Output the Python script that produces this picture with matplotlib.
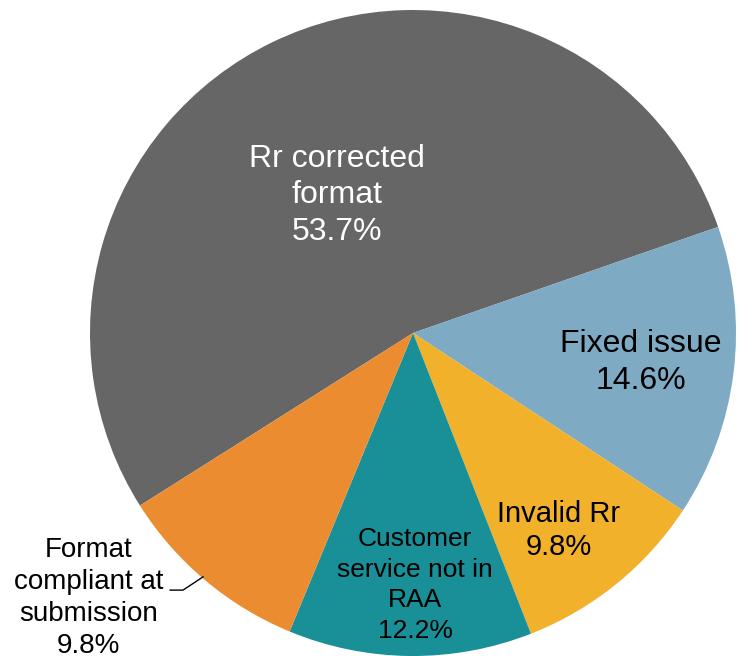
import matplotlib.pyplot as plt

plt.rcParams['font.family'] = ['Liberation Sans', 'DejaVu Sans']

labels = ['Rr corrected\nformat', 'Fixed issue', 'Invalid Rr',
          'Customer\nservice not in\nRAA', 'Format\ncompliant at\nsubmission']
values = [53.7, 14.6, 9.8, 12.2, 9.8]
colors = ['#666666', '#7faac3', '#f2b12a', '#198f97', '#ec8c31']

# label placement (data coords, radius = 1) and look
label_pos = [(-0.235, 0.427), (0.706, -0.09), (0.452, -0.612), (0.006, -0.78), (-1.004, -0.82)]
label_size = [23, 23, 21, 19, 20]
label_space = [1.28, 1.3, 1.24, 1.36, 1.31]
label_color = ['white', 'black', 'black', 'black', 'black']

fig = plt.figure(figsize=(7.4, 6.56), dpi=100)
ax = fig.add_axes([90 / 740, 0, 646 / 740, 646 / 656])
ax.pie(values, colors=colors, startangle=212.3, counterclock=False,
       radius=1, wedgeprops=dict(linewidth=0))
ax.set_xlim(-1, 1)
ax.set_ylim(-1, 1)
ax.set_aspect('equal')
ax.axis('off')

for lab, v, (x, y), fs, ls, c in zip(labels, values, label_pos, label_size,
                                     label_space, label_color):
    ax.text(x, y, f'{lab}\n{v}%', ha='center', va='center', fontsize=fs,
            color=c, linespacing=ls, clip_on=False)

# leader line for the outside label
ax.plot([-0.752, -0.712, -0.650], [-0.796, -0.796, -0.755], color='black',
        linewidth=1, clip_on=False)

fig.savefig('out.png', dpi=100)
